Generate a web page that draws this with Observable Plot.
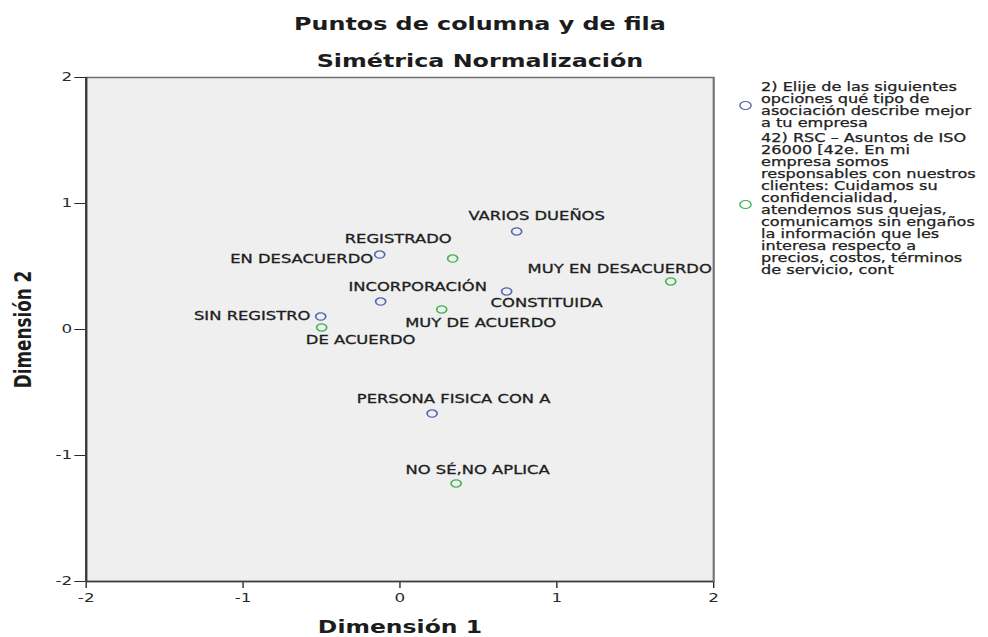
<!DOCTYPE html>
<html>
<head>
<meta charset="utf-8">
<script src="https://cdn.jsdelivr.net/npm/d3@7"></script>
<script src="https://cdn.jsdelivr.net/npm/@observablehq/plot@0.6"></script>
<style>
  html, body { margin: 0; padding: 0; width: 988px; height: 637px; overflow: hidden; background: #fff; }
  #wrap { position: absolute; left: 0; top: 0; width: 705.7px; height: 637px; transform: scaleX(1.4); transform-origin: 0 0; font-family: "DejaVu Sans", sans-serif; color: #222; }
  .title { position: absolute; left: 0; width: 685.7px; text-align: center; font-weight: bold; font-size: 17px; line-height: 20px; white-space: nowrap; color: #1c1c1c; }
  .legend { position: absolute; left: 528.4px; display: flex; align-items: center; }
  .legend .sw { width: 9px; height: 9px; box-sizing: border-box; border-radius: 50%; border: 1.3px solid; flex: none; margin-right: 6.2px; }
  .legend .txt { font-size: 11.5px; line-height: 12px; white-space: pre; -webkit-text-stroke: 0.25px #222; }
  #chart { position: absolute; left: 0; top: 66px; }
</style>
</head>
<body>
<div id="wrap">
  <div class="title" id="t1" style="top:14px"></div>
  <div class="title" id="t2" style="top:51px"></div>
  <div id="chart"></div>
  <div class="legend" id="lg1" style="top:81px"><span class="sw"></span><div class="txt"></div></div>
  <div class="legend" id="lg2" style="top:132px"><span class="sw"></span><div class="txt"></div></div>
</div>
<script>
// ---- Data ----
const titleLines = ["Puntos de columna y de fila", "Simétrica Normalización"];
const xTitle = "Dimensión 1";
const yTitle = "Dimensión 2";
const axisTicks = [-2, -1, 0, 1, 2];

const seriesNames = ["tipo", "rsc"];
const legendRow = ["2) Elije de las siguientes", "opciones qué tipo de", "asociación describe mejor", "a tu empresa"];
const legendCol = ["42) RSC – Asuntos de ISO", "26000 [42e. En mi", "empresa somos", "responsables con nuestros",
  "clientes: Cuidamos su", "confidencialidad,", "atendemos sus quejas,", "comunicamos sin engaños",
  "la información que les", "interesa respecto a", "precios, costos, términos", "de servicio, cont"];

const rowLabels = ["VARIOS DUEÑOS", "REGISTRADO", "INCORPORACIÓN", "CONSTITUIDA", "SIN REGISTRO", "PERSONA FISICA CON A"];
const rowDim1 = [0.744, -0.129, -0.123, 0.680, -0.505, 0.205];
const rowDim2 = [0.778, 0.595, 0.222, 0.302, 0.103, -0.667];

const colLabels = ["EN DESACUERDO", "MUY EN DESACUERDO", "MUY DE ACUERDO", "DE ACUERDO", "NO SÉ,NO APLICA"];
const colDim1 = [0.336, 1.726, 0.266, -0.499, 0.358];
const colDim2 = [0.563, 0.381, 0.159, 0.016, -1.222];

// ---- Style / layout (not data) ----
const K = 1.4; // horizontal stretch of the whole picture
const colors = ["#5563b0", "#3fb34f"];
// label placement relative to its point, in screen pixels (center of label)
const labelNudge = {
  "VARIOS DUEÑOS": [20, -15], "REGISTRADO": [18.5, -15], "INCORPORACIÓN": [37, -14],
  "CONSTITUIDA": [40, 12], "SIN REGISTRO": [-68.5, 0], "PERSONA FISICA CON A": [21.5, -14],
  "EN DESACUERDO": [-151, 1], "MUY EN DESACUERDO": [-51, -12], "MUY DE ACUERDO": [39, 14],
  "DE ACUERDO": [39, 13], "NO SÉ,NO APLICA": [21.5, -13]
};

const points = [
  ...rowLabels.map((label, i) => ({label, d1: rowDim1[i], d2: rowDim2[i], series: seriesNames[0]})),
  ...colLabels.map((label, i) => ({label, d1: colDim1[i], d2: colDim2[i], series: seriesNames[1]}))
];

document.getElementById("t1").textContent = titleLines[0];
document.getElementById("t2").textContent = titleLines[1];
const lg = [["lg1", legendRow, colors[0]], ["lg2", legendCol, colors[1]]];
for (const [id, lines, c] of lg) {
  const el = document.getElementById(id);
  el.querySelector(".sw").style.borderColor = c;
  el.querySelector(".txt").textContent = lines.join("\n");
}

const labelMarks = points.map(p => Plot.text([p], {
  x: "d1", y: "d2", text: "label",
  dx: labelNudge[p.label][0] / K, dy: labelNudge[p.label][1],
  textAnchor: "middle", lineAnchor: "middle",
  fontSize: 11.7, fill: "#1e1e1e", stroke: "#1e1e1e", strokeWidth: 0.3
}));

const chart = Plot.plot({
  width: 530,
  height: 571,
  marginLeft: 61.07,
  marginRight: 20.71,
  marginTop: 11,
  marginBottom: 56,
  style: {fontFamily: "DejaVu Sans", fontSize: "12px", color: "#2a2a2a", background: "transparent"},
  x: {domain: [-2, 2], ticks: axisTicks, tickFormat: d => String(d), tickSize: 7, tickPadding: 5, label: null},
  y: {domain: [-2, 2], ticks: axisTicks, tickFormat: d => String(d), tickSize: 8, tickPadding: 2, label: null},
  color: {domain: seriesNames, range: colors},
  marks: [
    Plot.frame({fill: "#efefef", stroke: "#707070", strokeWidth: 1.5}),
    Plot.ruleX([-2], {stroke: "#3a3a3a", strokeWidth: 1.6}),
    Plot.ruleY([-2], {stroke: "#3a3a3a", strokeWidth: 1.6}),
    Plot.dot(points, {x: "d1", y: "d2", stroke: "series", r: 3.6, strokeWidth: 1.2}),
    ...labelMarks,
    Plot.text([xTitle], {frameAnchor: "bottom", text: d => d, dy: 51, lineAnchor: "bottom",
      fontWeight: "bold", fontSize: 16.8, fill: "#1c1c1c"}),
    Plot.text([yTitle], {frameAnchor: "left", text: d => d, dx: -44.7, rotate: -90,
      lineAnchor: "middle", textAnchor: "middle", fontWeight: "bold", fontSize: 16.8, fill: "#1c1c1c"})
  ]
});
document.getElementById("chart").appendChild(chart);
</script>
</body>
</html>
